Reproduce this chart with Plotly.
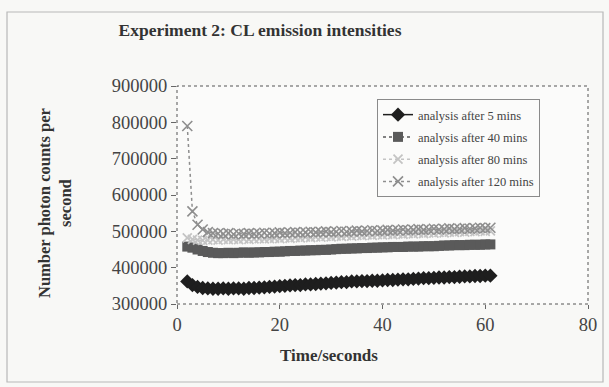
import plotly.graph_objects as go

# Time (s) of each reading
time_s = list(range(2, 62))

# Photon counts per second for each analysis delay
after_5 = [362000, 352000, 347000, 344000, 343000, 342000, 342000, 343000, 342000, 343000,
           343000, 342000, 344000, 344000, 345000, 346000, 347000, 348000, 349000, 350000,
           351000, 352000, 352000, 354000, 354000, 355000, 356000, 357000, 358000, 359000,
           360000, 360000, 362000, 362000, 363000, 363000, 364000, 364000, 365000, 366000,
           366000, 367000, 368000, 368000, 369000, 370000, 371000, 371000, 372000, 373000,
           373000, 374000, 374000, 375000, 376000, 376000, 377000, 377000, 378000, 378000]
after_40 = [458000, 455000, 450000, 446000, 443000, 441000, 440000, 440000, 441000, 440000,
            441000, 442000, 441000, 442000, 442000, 443000, 443000, 444000, 444000, 445000,
            446000, 446000, 447000, 447000, 448000, 448000, 449000, 449000, 450000, 451000,
            452000, 452000, 453000, 453000, 454000, 454000, 455000, 455000, 456000, 456000,
            457000, 457000, 457000, 458000, 458000, 458000, 459000, 459000, 459000, 460000,
            461000, 461000, 462000, 462000, 462000, 463000, 463000, 463000, 464000, 464000]
after_80 = [482000, 478000, 476000, 475000, 476000, 477000, 476000, 478000, 477000, 478000,
            477000, 479000, 478000, 479000, 480000, 479000, 480000, 481000, 480000, 482000,
            481000, 483000, 482000, 484000, 483000, 485000, 484000, 486000, 485000, 487000,
            486000, 488000, 487000, 489000, 488000, 490000, 489000, 491000, 490000, 492000,
            491000, 493000, 492000, 494000, 493000, 495000, 494000, 496000, 495000, 497000,
            496000, 498000, 497000, 499000, 498000, 500000, 499000, 501000, 500000, 501000]
after_120 = [790000, 555000, 518000, 505000, 498000, 495000, 494000, 493000, 495000, 492000,
             494000, 493000, 495000, 493000, 494000, 496000, 494000, 495000, 497000, 495000,
             496000, 498000, 496000, 497000, 499000, 497000, 498000, 500000, 498000, 499000,
             501000, 499000, 500000, 502000, 500000, 501000, 503000, 501000, 502000, 504000,
             502000, 503000, 505000, 503000, 504000, 506000, 504000, 505000, 507000, 505000,
             506000, 508000, 506000, 507000, 509000, 507000, 508000, 510000, 509000, 510000]

series_names = ["analysis after 5 mins", "analysis after 40 mins",
                "analysis after 80 mins", "analysis after 120 mins"]
y_ticks = [300000, 400000, 500000, 600000, 700000, 800000, 900000]
x_ticks = [0, 20, 40, 60, 80]

SERIF = "Liberation Serif"
W, H = 609, 387
L, R, T, B = 177, 21, 86, 83          # plot-area margins in pixels
PW, PH = W - L - R, H - T - B


def px_x(px):
    return (px - L) / PW


def px_y(py):
    return (H - B - py) / PH


styles = [
    dict(color="#1e1e1e", dash="solid", symbol="diamond", size=11, lw=0),
    dict(color="#5a5a5a", dash="dot", symbol="square", size=10, lw=0),
    dict(color="#c4c4c4", dash="dot", symbol="x-thin-open", size=9, lw=1.8),
    dict(color="#8e8e8e", dash="dot", symbol="x-thin-open", size=10, lw=1.6),
]

fig = go.Figure()
for i, (name, vals, st) in enumerate(zip(series_names,
                                         [after_5, after_40, after_80, after_120],
                                         styles)):
    marker = dict(symbol=st["symbol"], size=st["size"], color=st["color"])
    if st["lw"]:
        marker["line"] = dict(color=st["color"], width=st["lw"])
    fig.add_trace(go.Scatter(
        x=time_s, y=vals, name=name, mode="lines+markers",
        line=dict(color=st["color"], width=1.5, dash=st["dash"]),
        marker=marker, legendgroup=f"g{i}",
    ))

# plot-area border and outer chart frame
shapes = [
    dict(type="rect", xref="paper", yref="paper", x0=0, x1=1, y0=0, y1=1,
         line=dict(color="#555555", width=1, dash="dot")),
    dict(type="rect", xref="paper", yref="paper",
         x0=px_x(7), x1=px_x(603), y0=px_y(382), y1=px_y(12),
         line=dict(color="#b8b8b8", width=1.2)),
]

annotations = [
    dict(text="<b>Number photon counts per<br>second</b>", textangle=-90,
         xref="paper", yref="paper", x=px_x(55), y=px_y(203),
         xanchor="center", yanchor="middle", showarrow=False,
         font=dict(family=SERIF, size=16.5, color="#333333")),
    dict(text="<b>Time/seconds</b>", xref="paper", yref="paper",
         x=px_x(329), y=px_y(355), xanchor="center", yanchor="middle",
         showarrow=False, font=dict(family=SERIF, size=17, color="#333333")),
]

fig.update_layout(
    width=W, height=H,
    margin=dict(l=L, r=R, t=T, b=B),
    paper_bgcolor="#f8f8f6", plot_bgcolor="#fbfbfa",
    title=dict(text="<b>Experiment 2: CL emission intensities</b>",
               x=260 / W, xanchor="center", y=1 - 30 / H, yanchor="middle",
               font=dict(family=SERIF, size=17.5, color="#333333")),
    font=dict(family=SERIF, color="#444444"),
    showlegend=True,
    legend=dict(x=px_x(377), y=px_y(99), xanchor="left", yanchor="top",
                bgcolor="#fbfbfa", bordercolor="#8a8a8a", borderwidth=1,
                traceorder="grouped", tracegroupgap=3,
                font=dict(family=SERIF, size=12.5, color="#444444")),
    shapes=shapes,
    annotations=annotations,
)
fig.update_xaxes(range=[0, 80], tickvals=x_ticks, showgrid=False, zeroline=False,
                 showline=False, ticks="outside", ticklen=4, tickcolor="#666666",
                 tickfont=dict(family=SERIF, size=18.5, color="#444444"))
fig.update_yaxes(range=[300000, 900000], tickvals=y_ticks, showgrid=False,
                 zeroline=False, showline=False, ticks="outside", ticklen=5,
                 tickcolor="#666666", tickformat="d",
                 tickfont=dict(family=SERIF, size=18.5, color="#444444"))

fig.write_html("out.html")
